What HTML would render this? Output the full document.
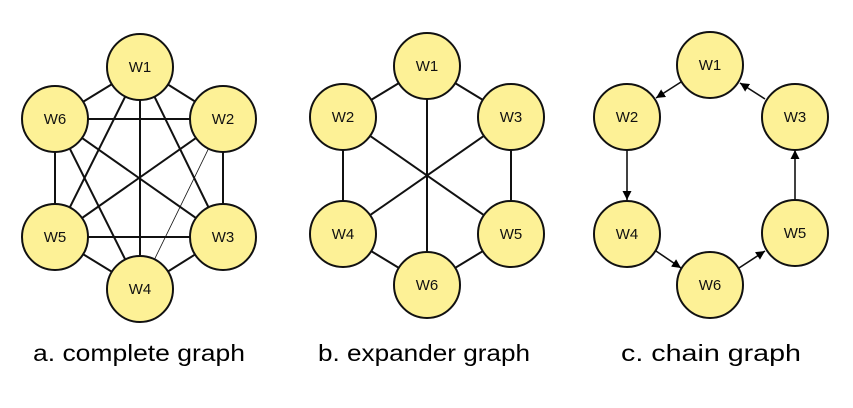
<!DOCTYPE html>
<html><head><style>html,body{margin:0;padding:0;background:#fff;}</style></head>
<body>
<svg width="853" height="403" viewBox="0 0 853 403" xmlns="http://www.w3.org/2000/svg">
<defs>
<marker id="ar" viewBox="0 0 10 10" refX="10" refY="5" markerWidth="9" markerHeight="9" markerUnits="userSpaceOnUse" orient="auto">
<path d="M0,0 L10,5 L0,10 z" fill="#000"/>
</marker>
</defs>
<g stroke="#111" stroke-width="2">
<!-- a -->
<line x1="140" y1="67" x2="223" y2="119"/><line x1="140" y1="67" x2="55" y2="119"/>
<line x1="140" y1="67" x2="55" y2="237"/><line x1="140" y1="67" x2="223" y2="237"/>
<line x1="140" y1="67" x2="140" y2="289"/>
<line x1="55" y1="119" x2="223" y2="119"/><line x1="55" y1="119" x2="55" y2="237"/>
<line x1="55" y1="119" x2="223" y2="237"/><line x1="55" y1="119" x2="140" y2="289"/>
<line x1="223" y1="119" x2="223" y2="237"/><line x1="223" y1="119" x2="55" y2="237"/>
<line x1="223" y1="119" x2="140" y2="289" stroke-width="0.8"/>
<line x1="55" y1="237" x2="223" y2="237"/><line x1="55" y1="237" x2="140" y2="289"/>
<line x1="223" y1="237" x2="140" y2="289"/>
<!-- b -->
<line x1="427" y1="66" x2="343" y2="117"/><line x1="427" y1="66" x2="511" y2="117"/>
<line x1="427" y1="66" x2="427" y2="285"/>
<line x1="343" y1="117" x2="343" y2="234"/><line x1="511" y1="117" x2="511" y2="234"/>
<line x1="343" y1="234" x2="427" y2="285"/><line x1="511" y1="234" x2="427" y2="285"/>
<line x1="343" y1="117" x2="511" y2="234"/><line x1="511" y1="117" x2="343" y2="234"/>
<!-- c -->
<g stroke-width="1.6">
<line x1="681" y1="82" x2="656" y2="98" marker-end="url(#ar)"/>
<line x1="627" y1="150" x2="627" y2="200" marker-end="url(#ar)"/>
<line x1="656" y1="251" x2="681" y2="268" marker-end="url(#ar)"/>
<line x1="739" y1="268" x2="765" y2="251" marker-end="url(#ar)"/>
<line x1="795" y1="200" x2="795" y2="150" marker-end="url(#ar)"/>
<line x1="765" y1="99" x2="740" y2="83" marker-end="url(#ar)"/>
</g>
</g>
<g fill="#fdf196" stroke="#111" stroke-width="2">
<circle cx="140" cy="67" r="33"/><circle cx="223" cy="119" r="33"/><circle cx="55" cy="119" r="33"/>
<circle cx="55" cy="237" r="33"/><circle cx="223" cy="237" r="33"/><circle cx="140" cy="289" r="33"/>
<circle cx="427" cy="66" r="33"/><circle cx="343" cy="117" r="33"/><circle cx="511" cy="117" r="33"/>
<circle cx="343" cy="234" r="33"/><circle cx="511" cy="234" r="33"/><circle cx="427" cy="285" r="33"/>
<circle cx="710" cy="65" r="33"/><circle cx="627" cy="117" r="33"/><circle cx="795" cy="117" r="33"/>
<circle cx="627" cy="234" r="33"/><circle cx="795" cy="233" r="33"/><circle cx="710" cy="285" r="33"/>
</g>
<g font-family="Liberation Sans, sans-serif" font-size="15" text-anchor="middle" fill="#111">
<text x="140" y="72">W1</text><text x="223" y="124">W2</text><text x="55" y="124">W6</text>
<text x="55" y="242">W5</text><text x="223" y="242">W3</text><text x="140" y="294">W4</text>
<text x="427" y="71">W1</text><text x="343" y="122">W2</text><text x="511" y="122">W3</text>
<text x="343" y="239">W4</text><text x="511" y="239">W5</text><text x="427" y="290">W6</text>
<text x="710" y="70">W1</text><text x="627" y="122">W2</text><text x="795" y="122">W3</text>
<text x="627" y="239">W4</text><text x="795" y="238">W5</text><text x="710" y="290">W6</text>
</g>
<g font-family="Liberation Sans, sans-serif" font-size="23" fill="#000">
<text x="33" y="361" textLength="212" lengthAdjust="spacingAndGlyphs">a. complete graph</text>
<text x="318" y="361" textLength="212" lengthAdjust="spacingAndGlyphs">b. expander graph</text>
<text x="621" y="361" textLength="180" lengthAdjust="spacingAndGlyphs">c. chain graph</text>
</g>
</svg>
</body></html>
